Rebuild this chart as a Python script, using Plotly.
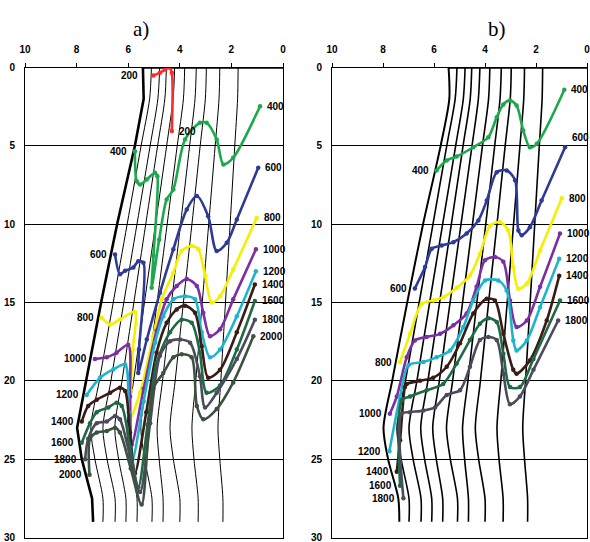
import plotly.graph_objects as go

# ---------------- isolines (x at fixed depths) ----------------
DEPTHS = [0, 2, 5, 10, 15, 20, 23, 25, 27.5, 29]
ISO_0 = [5.43, 5.40, 5.74, 6.43, 7.05, 7.64, 7.98, 7.80, 7.40, 7.36]
ISO_1 = [5.10, 5.17, 5.50, 6.04, 6.58, 7.12, 7.45, 7.29, 6.98, 6.98]
ISO_2 = [4.78, 4.85, 5.15, 5.66, 6.17, 6.67, 6.98, 6.82, 6.51, 6.51]
ISO_3 = [4.52, 4.58, 4.86, 5.32, 5.78, 6.24, 6.52, 6.37, 6.09, 6.09]
ISO_4 = [4.20, 4.26, 4.51, 4.94, 5.37, 5.79, 6.05, 5.91, 5.66, 5.66]
ISO_5 = [3.81, 3.86, 4.10, 4.49, 4.88, 5.27, 5.51, 5.36, 5.08, 5.08]
ISO_6 = [3.36, 3.41, 3.62, 3.97, 4.32, 4.67, 4.88, 4.80, 4.65, 4.65]
ISO_7 = [2.97, 3.01, 3.21, 3.53, 3.86, 4.18, 4.38, 4.25, 4.00, 4.00]
ISO_8 = [2.45, 2.48, 2.63, 2.88, 3.13, 3.38, 3.53, 3.45, 3.29, 3.29]
ISO_9 = [1.74, 1.76, 1.87, 2.05, 2.23, 2.41, 2.52, 2.45, 2.33, 2.33]
ISOLINES = [ISO_0, ISO_1, ISO_2, ISO_3, ISO_4, ISO_5, ISO_6, ISO_7, ISO_8, ISO_9]

# ---------------- panel a curves ----------------
A200_X = [5.03, 4.77, 4.57, 4.41, 4.31, 4.31]
A200_Y = [0.51, 0.34, 0.13, 0.0, 0.34, 4.06]
A400_X = [5.74, 5.67, 5.54, 5.28, 4.96, 4.87, 5.02, 5.09, 4.80, 4.51, 4.25, 3.80, 3.22, 2.96, 2.57, 2.31, 1.93, 0.89]
A400_Y = [5.34, 7.26, 7.47, 7.15, 6.72, 6.94, 12.0, 14.06, 11.0, 8.42, 7.79, 4.6, 3.53, 3.53, 4.6, 6.19, 5.76, 2.47]
A600_X = [6.51, 6.32, 6.12, 5.80, 5.61, 5.41, 5.58, 5.61, 5.28, 4.77, 4.25, 3.73, 3.34, 2.90, 2.57, 2.18, 1.79, 0.96]
A600_Y = [11.93, 13.2, 12.97, 12.76, 12.36, 12.46, 18.0, 19.5, 17.36, 14.38, 11.6, 9.06, 8.2, 9.5, 11.72, 11.19, 9.7, 6.4]
A800_X = [7.03, 6.70, 6.32, 5.74, 5.82, 5.90, 5.93, 5.54, 5.03, 4.70, 4.25, 3.93, 3.54, 3.28, 3.02, 2.76, 2.44, 1.93, 1.02]
A800_Y = [15.97, 16.4, 16.08, 15.6, 18.0, 20.6, 22.46, 20.76, 17.15, 14.8, 13.1, 11.7, 11.4, 11.6, 13.3, 15.0, 14.6, 12.9, 9.6]
A1000_X = [7.29, 6.83, 6.45, 6.00, 5.93, 5.86, 5.40, 4.90, 4.51, 4.12, 3.73, 3.34, 3.09, 2.83, 2.44, 1.93, 1.05]
A1000_Y = [18.6, 18.5, 18.2, 17.7, 21.0, 24.06, 20.5, 16.8, 14.8, 13.95, 13.5, 13.95, 15.66, 17.15, 16.7, 14.8, 11.6]
A1200_X = [7.61, 7.09, 6.58, 6.12, 5.98, 5.83, 5.40, 4.96, 4.64, 4.25, 3.80, 3.41, 3.15, 2.83, 2.44, 1.79, 1.05]
A1200_Y = [20.9, 19.8, 19.27, 18.95, 22.0, 25.0, 21.3, 17.57, 15.87, 14.8, 14.6, 14.8, 16.9, 18.5, 18.0, 15.87, 13.0]
A1400_X = [7.80, 7.55, 7.22, 6.70, 6.32, 6.12, 5.93, 5.74, 5.30, 4.90, 4.51, 4.12, 3.80, 3.41, 3.15, 2.90, 2.44, 1.79, 1.09]
A1400_Y = [22.6, 21.6, 21.2, 20.76, 20.44, 20.65, 23.3, 25.9, 22.0, 18.2, 16.3, 15.44, 15.2, 15.66, 17.79, 19.8, 19.3, 16.9, 13.85]
A1600_X = [7.80, 7.48, 7.22, 6.77, 6.45, 6.25, 5.93, 5.61, 5.25, 4.90, 4.38, 3.93, 3.54, 3.22, 2.96, 2.44, 1.79, 1.09]
A1600_Y = [23.95, 22.7, 22.0, 21.7, 21.4, 21.6, 24.2, 26.8, 22.8, 18.85, 16.9, 16.1, 16.3, 18.2, 20.76, 20.3, 18.0, 14.9]
A1800_X = [7.67, 7.55, 7.22, 6.83, 6.51, 6.32, 5.93, 5.54, 5.15, 4.77, 4.38, 3.99, 3.60, 3.22, 3.02, 2.57, 1.79, 1.09]
A1800_Y = [25.0, 23.7, 22.7, 22.6, 22.25, 22.46, 24.8, 27.1, 22.7, 18.4, 17.47, 17.36, 17.57, 19.7, 21.7, 20.76, 18.6, 16.1]
A2000_X = [7.50, 7.48, 7.22, 6.83, 6.51, 6.32, 5.90, 5.48, 5.03, 4.64, 4.25, 3.93, 3.54, 3.34, 3.09, 2.57, 1.93, 1.15]
A2000_Y = [26.0, 23.7, 23.3, 23.2, 23.0, 23.3, 25.6, 27.9, 20.5, 19.5, 18.5, 18.3, 18.5, 21.6, 22.46, 21.8, 20.1, 17.15]

# ---------------- panel b curves ----------------
B400_X = [5.90, 5.50, 5.11, 4.46, 3.87, 3.54, 3.28, 3.02, 2.76, 2.50, 2.24, 1.97, 0.89]
B400_Y = [6.57, 5.93, 5.68, 5.09, 4.45, 3.17, 2.36, 2.1, 2.42, 4.02, 5.09, 4.87, 1.42]
B600_X = [6.75, 6.35, 6.09, 5.70, 5.24, 4.72, 4.26, 3.93, 3.54, 3.15, 2.82, 2.69, 2.56, 2.24, 1.78, 0.86]
B600_Y = [14.1, 12.74, 11.57, 11.36, 11.15, 10.6, 9.76, 8.49, 6.68, 6.57, 7.2, 10.4, 10.7, 10.2, 8.49, 5.09]
B800_X = [7.33, 6.94, 6.48, 6.03, 5.64, 5.11, 4.59, 4.20, 3.80, 3.41, 3.09, 2.89, 2.69, 2.36, 1.84, 0.99]
B800_Y = [18.8, 17.0, 15.08, 14.87, 14.66, 14.06, 13.27, 11.9, 10.1, 9.87, 10.4, 12.74, 14.12, 13.8, 11.68, 8.34]
B1000_X = [7.73, 7.46, 7.07, 6.75, 6.29, 5.76, 5.24, 4.72, 4.33, 4.00, 3.61, 3.28, 3.02, 2.76, 2.36, 1.84, 1.06]
B1000_Y = [22.1, 21.0, 18.5, 17.42, 17.2, 17.0, 16.46, 15.7, 14.0, 12.3, 12.1, 12.4, 14.87, 16.57, 16.15, 14.0, 10.6]
B1200_X = [7.75, 7.33, 7.00, 6.42, 5.90, 5.37, 4.85, 4.46, 4.00, 3.48, 3.15, 2.89, 2.76, 2.36, 1.84, 1.09]
B1200_Y = [24.5, 21.0, 19.0, 18.8, 18.5, 18.06, 16.57, 14.87, 13.6, 13.6, 14.23, 17.42, 18.06, 17.42, 15.3, 12.2]
B1400_X = [7.46, 7.33, 7.14, 7.07, 6.55, 6.03, 5.50, 4.98, 4.46, 3.93, 3.61, 3.28, 2.89, 2.76, 2.24, 1.58, 1.09]
B1400_Y = [25.8, 23.8, 20.4, 20.2, 20.0, 19.8, 19.1, 17.6, 15.7, 14.76, 14.87, 17.0, 19.3, 19.55, 18.7, 16.15, 13.3]
B1600_X = [7.33, 7.27, 6.94, 6.29, 5.64, 5.11, 4.59, 4.20, 3.87, 3.54, 3.28, 3.02, 2.63, 2.10, 1.06]
B1600_Y = [26.7, 21.25, 21.0, 20.6, 20.2, 18.9, 17.4, 16.36, 16.0, 16.25, 18.27, 20.4, 20.4, 18.6, 14.87]
B1800_X = [7.20, 7.27, 6.94, 6.42, 5.96, 5.50, 4.98, 4.59, 4.20, 3.87, 3.54, 3.28, 3.02, 2.63, 2.10, 1.13]
B1800_Y = [27.5, 22.1, 22.0, 21.9, 21.7, 20.9, 20.6, 19.1, 17.4, 17.2, 17.4, 19.55, 21.5, 21.0, 19.3, 16.15]

COLORS = {
    "200": "#FF2A2A", "400": "#1DA84E", "600": "#2E3A96", "800": "#F4F000",
    "1000": "#7A2FA2", "1200": "#1DB4CC", "1400": "#3A1C16", "1600": "#1F6A45",
    "1800": "#4B4B5C", "2000": "#3C5241",
}

CURVES_A = [("200", A200_X, A200_Y), ("400", A400_X, A400_Y), ("600", A600_X, A600_Y),
            ("800", A800_X, A800_Y), ("1000", A1000_X, A1000_Y), ("1200", A1200_X, A1200_Y),
            ("1400", A1400_X, A1400_Y), ("1600", A1600_X, A1600_Y), ("1800", A1800_X, A1800_Y),
            ("2000", A2000_X, A2000_Y)]
CURVES_B = [("400", B400_X, B400_Y), ("600", B600_X, B600_Y), ("800", B800_X, B800_Y),
            ("1000", B1000_X, B1000_Y), ("1200", B1200_X, B1200_Y), ("1400", B1400_X, B1400_Y),
            ("1600", B1600_X, B1600_Y), ("1800", B1800_X, B1800_Y)]

W, H = 590, 542
fig = go.Figure()

panels = [("x", "y", CURVES_A, True), ("x2", "y2", CURVES_B, False)]
LABFONT = dict(family="Liberation Sans, Arial, sans-serif", size=10, color="black")

for xa, ya, curves, is_a in panels:
    for i, iso in enumerate(ISOLINES):
        if is_a:
            w = 2.6 if i == 0 else 1.0
        else:
            w = 2.0 if i == 0 else 1.6
        fig.add_trace(go.Scatter(
            x=iso, y=DEPTHS, xaxis=xa, yaxis=ya, mode="lines",
            line=dict(color="black", width=w,
                      shape="linear" if (is_a and i == 0) else "spline", smoothing=0.8),
            hoverinfo="skip", showlegend=False))
    # thick top boundary
    fig.add_trace(go.Scatter(
        x=[ISO_0[0], 0], y=[0, 0], xaxis=xa, yaxis=ya, mode="lines",
        line=dict(color="black", width=2.6), hoverinfo="skip", showlegend=False))
    for lab, xs, ys in curves:
        fig.add_trace(go.Scatter(
            x=xs, y=ys, xaxis=xa, yaxis=ya, mode="lines+markers",
            line=dict(color=COLORS[lab], width=2.6, shape="spline", smoothing=0.8),
            marker=dict(color=COLORS[lab], size=4.5),
            hoverinfo="skip", showlegend=False))
        lx = 13 if lab == "200" else 6
        fig.add_annotation(x=xs[0], y=ys[0], xref=xa, yref=ya, text="<b>%s</b>" % lab,
                           showarrow=False, xanchor="right", yanchor="middle",
                           xshift=-lx, font=LABFONT)
        ysh = 10 if (not is_a and lab == "600") else 0
        fig.add_annotation(x=xs[-1], y=ys[-1], xref=xa, yref=ya, text="<b>%s</b>" % lab,
                           showarrow=False, xanchor="left", yanchor="middle",
                           xshift=5, yshift=ysh, font=LABFONT)

TICKFONT = dict(family="Liberation Sans, Arial, sans-serif", size=10, color="black", weight="bold")

def xaxis_cfg(x0, x1, anchor):
    return dict(domain=[x0 / W, x1 / W], range=[10, 0], side="top", anchor=anchor,
                tickvals=[0, 2, 4, 6, 8, 10], ticks="outside", ticklen=4, tickcolor="black",
                tickfont=TICKFONT, showgrid=False, zeroline=False, showline=True,
                linecolor="black", linewidth=1, mirror=True, fixedrange=True,
                automargin=False, ticklabelstandoff=6, ticklabeloverflow="allow")

def yaxis_cfg(anchor):
    return dict(domain=[1 - 537.5 / H, 1 - 67.5 / H], range=[30, 0], anchor=anchor,
                tickvals=[0, 5, 10, 15, 20, 25, 30], ticks="", tickfont=TICKFONT,
                ticklabelstandoff=7, automargin=False, ticklabeloverflow="allow",
                showgrid=True, gridcolor="black", gridwidth=1, zeroline=False,
                showline=True, linecolor="black", linewidth=1, mirror=True, fixedrange=True)

fig.update_layout(
    width=W, height=H, margin=dict(l=0, r=0, t=0, b=0, pad=0, autoexpand=False),
    paper_bgcolor="white", plot_bgcolor="white", showlegend=False,
    xaxis=xaxis_cfg(25, 283, "y"), yaxis=yaxis_cfg("x"),
    xaxis2=xaxis_cfg(332, 587, "y2"), yaxis2=yaxis_cfg("x2"),
)

TITLEFONT = dict(family="Liberation Serif, Times New Roman, serif", size=21, color="black")
fig.add_annotation(x=131 / W, y=1 - 15 / H, xref="paper", yref="paper", text="a)",
                   showarrow=False, font=TITLEFONT)
fig.add_annotation(x=508 / W, y=1 - 15 / H, xref="paper", yref="paper", text="b)",
                   showarrow=False, font=TITLEFONT)

fig.write_html("out.html", config={"displayModeBar": False},
               post_script="document.body.style.margin='0px';document.body.style.padding='0px';"
                           "document.documentElement.style.overflow='hidden';")
